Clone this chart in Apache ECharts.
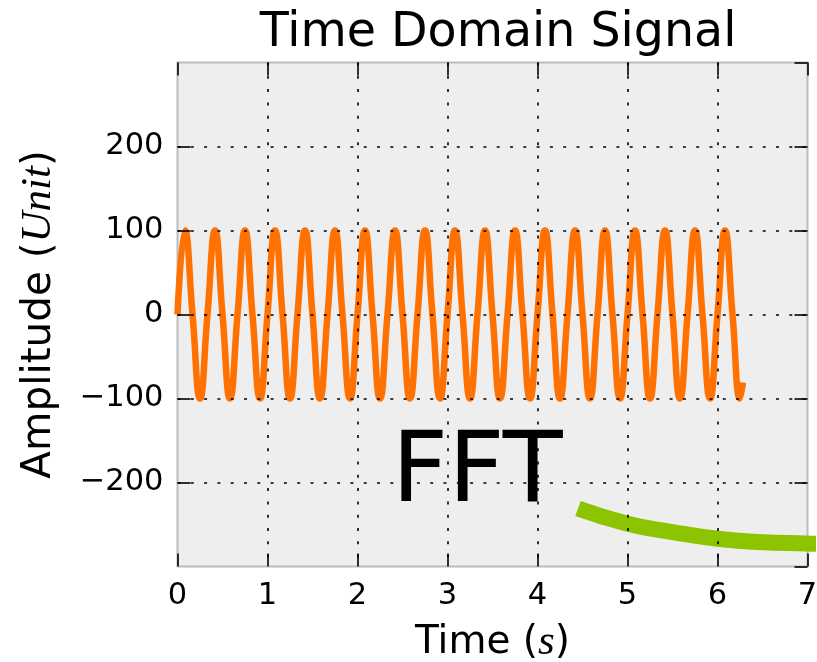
<!DOCTYPE html>
<html>
<head>
<meta charset="utf-8">
<script src="https://cdn.jsdelivr.net/npm/echarts@6/dist/echarts.min.js"></script>
<style>
  html, body { margin: 0; padding: 0; background: #fff; }
  #chart { width: 817px; height: 662px; }
</style>
</head>
<body>
<div id="chart"></div>
<script>
// 时间 (s)，每 1/12 s 一个读数（波峰、过零点、波谷）
const timeS = [
  0, 0.083, 0.167, 0.25, 0.333, 0.417, 0.5, 0.583, 0.667, 0.75, 0.833, 0.917,
  1, 1.083, 1.167, 1.25, 1.333, 1.417, 1.5, 1.583, 1.667, 1.75, 1.833, 1.917,
  2, 2.083, 2.167, 2.25, 2.333, 2.417, 2.5, 2.583, 2.667, 2.75, 2.833, 2.917,
  3, 3.083, 3.167, 3.25, 3.333, 3.417, 3.5, 3.583, 3.667, 3.75, 3.833, 3.917,
  4, 4.083, 4.167, 4.25, 4.333, 4.417, 4.5, 4.583, 4.667, 4.75, 4.833, 4.917,
  5, 5.083, 5.167, 5.25, 5.333, 5.417, 5.5, 5.583, 5.667, 5.75, 5.833, 5.917,
  6, 6.083, 6.167, 6.25, 6.283
];
// 振幅
const amplitude = [
  0, 100, 0, -100, 0, 100, 0, -100, 0, 100, 0, -100,
  0, 100, 0, -100, 0, 100, 0, -100, 0, 100, 0, -100,
  0, 100, 0, -100, 0, 100, 0, -100, 0, 100, 0, -100,
  0, 100, 0, -100, 0, 100, 0, -100, 0, 100, 0, -100,
  0, 100, 0, -100, 0, 100, 0, -100, 0, 100, 0, -100,
  0, 100, 0, -100, 0, 100, 0, -100, 0, 100, 0, -100,
  0, 100, 0, -100, -81
];
// 注释箭头（绿色弧线）
const arrowX = [4.45, 5.0, 5.5, 6.0, 6.5, 7.0, 7.12];
const arrowY = [-231, -249, -259, -267, -271, -272.5, -273];
// 注释文字
const noteText = 'FFT';
const notePos = [3.33, -192];

const xTicks = { min: 0, max: 7, interval: 1 };
const yTicks = { min: -300, max: 300, interval: 100 };

const font = 'DejaVu Sans';
const chart = echarts.init(document.getElementById('chart'));

const pair = (xs, ys) => xs.map((x, i) => [x, ys[i]]);
const minus = (v) => String(v).replace('-', '\u2212');

// 公共刻度样式（内向刻度）
const tick = { show: true, inside: true, length: 13, lineStyle: { color: '#000', width: 1.6 } };
const noLine = { show: false, onZero: false };
const dotted = { show: true, showMinLine: false, showMaxLine: false, lineStyle: { color: '#000', width: 1.6, type: [3, 10.3] } };
const italic = { fontFamily: 'Liberation Serif', fontStyle: 'italic', fontSize: 43, color: '#000' };

chart.setOption({
  backgroundColor: '#fff',
  animation: false,
  title: {
    text: 'Time Domain Signal',
    left: 493,
    textAlign: 'center',
    top: 5,
    textStyle: { fontFamily: font, fontSize: 47.5, fontWeight: 'normal', color: '#000' },
  },
  grid: {
    left: 177.5,
    right: 9.5,
    top: 62.5,
    bottom: 95.5,
    show: true,
    backgroundColor: '#eeeeee',
    borderColor: '#bcbcbc',
    borderWidth: 2,
    containLabel: false,
    outerBoundsMode: 'none',
  },
  xAxis: [
    {
      type: 'value',
      ...xTicks,
      z: 5,
      position: 'bottom',
      name: 'Time ({it|s})',
      nameLocation: 'middle',
      nameGap: 55,
      nameTextStyle: { fontFamily: font, fontSize: 39, color: '#000', rich: { it: italic } },
      axisLine: noLine,
      axisTick: tick,
      axisLabel: { margin: 14, fontFamily: font, fontSize: 30.5, color: '#000', showMaxLabel: true, showMinLabel: true },
      splitLine: dotted,
    },
    {
      type: 'value',
      ...xTicks,
      z: 5,
      position: 'top',
      axisLine: noLine,
      axisTick: tick,
      axisLabel: { show: false },
      splitLine: { show: false },
    },
  ],
  yAxis: [
    {
      type: 'value',
      ...yTicks,
      z: 5,
      position: 'left',
      name: 'Amplitude ({it|Unit})',
      nameLocation: 'middle',
      nameGap: 117,
      nameTextStyle: { fontFamily: font, fontSize: 40.5, color: '#000', rich: { it: italic } },
      axisLine: noLine,
      axisTick: tick,
      axisLabel: {
        margin: 14,
        fontFamily: font,
        fontSize: 30.5,
        color: '#000',
        showMinLabel: false,
        showMaxLabel: false,
        formatter: minus,
      },
      splitLine: dotted,
    },
    {
      type: 'value',
      ...yTicks,
      z: 5,
      position: 'right',
      axisLine: noLine,
      axisTick: tick,
      axisLabel: { show: false },
      splitLine: { show: false },
    },
  ],
  series: [
    {
      name: 'note',
      type: 'scatter',
      symbolSize: 0,
      silent: true,
      itemStyle: { opacity: 1 },
      data: [notePos],
      label: {
        show: true,
        position: 'inside',
        formatter: noteText,
        fontFamily: font,
        fontSize: 98,
        color: '#000',
        opacity: 1,
      },
    },
    {
      name: 'signal',
      type: 'line',
      data: pair(timeS, amplitude),
      smooth: true,
      showSymbol: false,
      lineStyle: { color: '#ff7100', width: 6.5 },
    },
    {
      name: 'arrow',
      type: 'line',
      data: pair(arrowX, arrowY),
      smooth: true,
      showSymbol: false,
      clip: false,
      lineStyle: { color: '#8dc400', width: 16, cap: 'butt' },
    },
  ],
});
</script>
</body>
</html>
